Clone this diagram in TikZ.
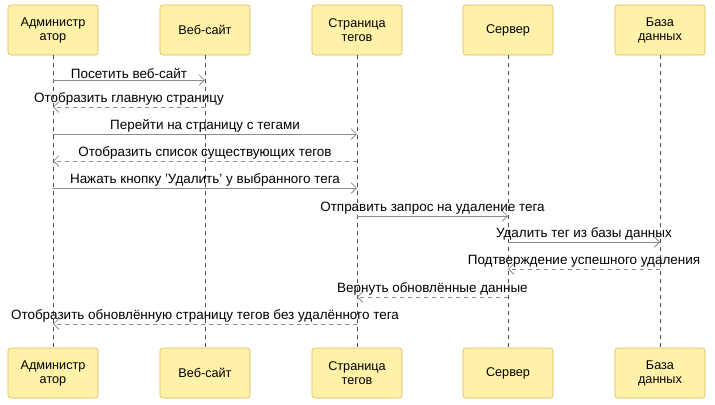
\documentclass[tikz,border=0pt]{standalone}
\usepackage{fontspec}
\setmainfont{Liberation Sans}
\usetikzlibrary{arrows.meta}
\definecolor{boxfill}{RGB}{255,242,168}
\definecolor{boxline}{RGB}{214,182,86}
\definecolor{msgline}{RGB}{140,140,140}
\begin{document}
\begin{tikzpicture}[x=0.75pt,y=-0.75pt,
    actor/.style={draw=boxline, fill=boxfill, rounded corners=2pt, minimum width=67.5pt,
      minimum height=37.5pt, align=center, font=\fontsize{9.5}{10.5}\selectfont, inner sep=1pt},
    life/.style={dashed, draw=black!70, line width=0.5pt},
    call/.style={draw=msgline, line width=0.6pt, -{Straight Barb[length=4pt]}},
    reply/.style={call, dashed},
    lbl/.style={font=\fontsize{10.1}{11}\selectfont, inner sep=1pt, above}]
    \useasboundingbox (0,0) rectangle (715,404);
    % lifelines
    \foreach \n/\x/\t in {adm/53/{Администр\\атор}, web/205/{Веб-сайт}, tag/357/{Страница\\тегов},
        srv/508/{Сервер}, db/660/{База\\данных}} {
      \node[actor] (\n top) at (\x,30) {\t};
      \node[actor] (\n bot) at (\x,373) {\t};
      \draw[life] (\n top) -- (\n bot);
    }
    % messages
    \foreach \y/\a/\b/\s/\t in {
        80/adm/web/call/{Посетить веб-сайт},
        107/web/adm/reply/{Отобразить главную страницу},
        134/adm/tag/call/{Перейти на страницу с тегами},
        161/tag/adm/reply/{Отобразить список существующих тегов},
        188/adm/tag/call/{Нажать кнопку 'Удалить' у выбранного тега},
        216/tag/srv/call/{Отправить запрос на удаление тега},
        242/srv/db/call/{Удалить тег из базы данных},
        269/db/srv/reply/{Подтверждение успешного удаления},
        297/srv/tag/reply/{Вернуть обновлённые данные},
        324/tag/adm/reply/{Отобразить обновлённую страницу тегов без удалённого тега}} {
      \coordinate (from) at (\a top |- 0,\y);
      \coordinate (to) at (\b top |- 0,\y);
      \draw[\s] (from) -- node[lbl] {\t} (to);
    }
\end{tikzpicture}
\end{document}
